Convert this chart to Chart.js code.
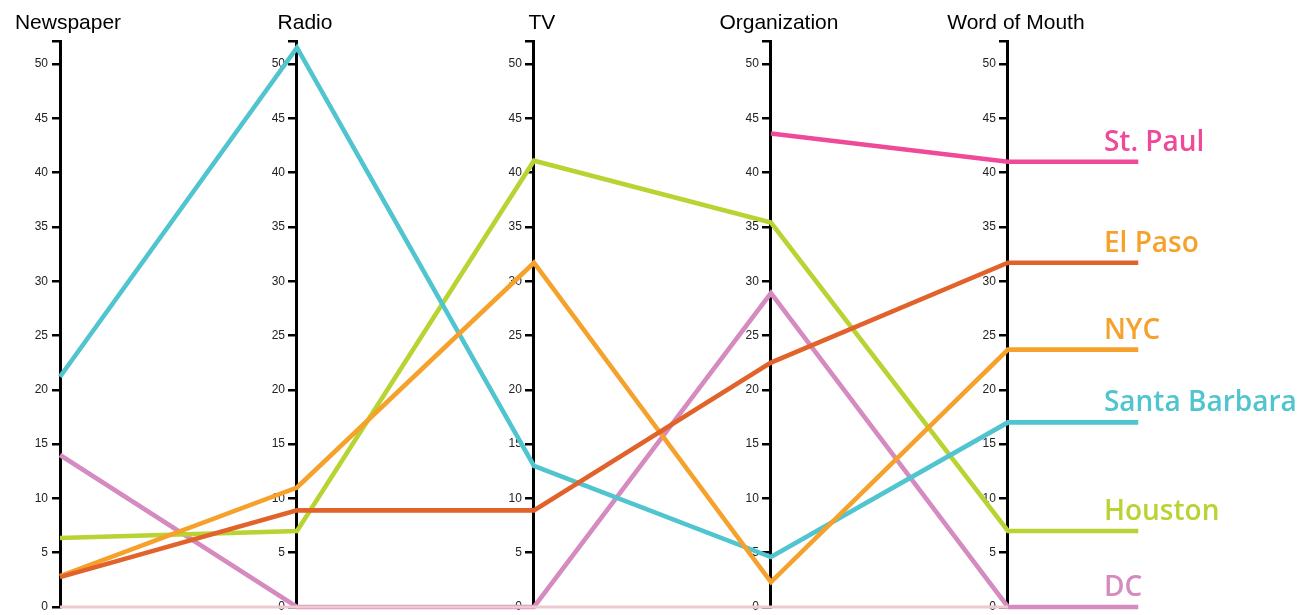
<!DOCTYPE html>
<html>
<head>
<meta charset="utf-8">
<script src="https://cdn.jsdelivr.net/npm/chart.js@4"></script>
<style>
  html, body { margin: 0; padding: 0; background: #fff; }
  #wrap { width: 1316px; height: 615px; position: relative; }
</style>
</head>
<body>
<div id="wrap"><canvas id="myChart"></canvas></div>
<script>
// axes of the parallel plot
const dimensions = ['Newspaper', 'Radio', 'TV', 'Organization', 'Word of Mouth'];
const y_ticks = [0, 5, 10, 15, 20, 25, 30, 35, 40, 45, 50];
const y_max = 52.1;

// one list per city, in the order of dimensions (null = no value)
const cities = ['St. Paul', 'El Paso', 'NYC', 'Santa Barbara', 'Houston', 'DC'];
const st_paul = [null, null, null, 43.6, 41.0];
const el_paso = [2.75, 8.9, 8.9, 22.5, 31.7];
const nyc = [2.85, 11.0, 31.7, 2.3, 23.7];
const santa_barbara = [21.2, 51.5, 13.0, 4.6, 17.0];
const houston = [6.35, 7.0, 41.1, 35.4, 7.0];
const dc = [14.0, 0, 0, 28.9, 0];
const baseline = [0, 0, 0, 0, 0];

const line_colors = ['#ee4a99', '#e2622b', '#f6a12b', '#50c4cf', '#b7d433', '#d58bbf'];
const label_colors = ['#ee4a99', '#f6a12b', '#f6a12b', '#50c4cf', '#b7d433', '#d58bbf'];
const series = [st_paul, el_paso, nyc, santa_barbara, houston, dc];

const tail_x = 4.55; // lines run on past the last axis

function to_points(values, with_tail){
    let pts = values.map((v, i) => ({x: i, y: v}));
    if(with_tail){
        pts.push({x: tail_x, y: values[values.length - 1]});
    }
    return pts;
}

let datasets = [{
    label: 'base',
    data: to_points(baseline, false),
    yAxisID: 'y0',
    borderColor: '#eccacd',
    borderWidth: 3,
    pointRadius: 0,
    clip: 8
}];
series.forEach((vals, i) => {
    datasets.push({
        label: cities[i],
        data: to_points(vals, true),
        yAxisID: 'y0',
        borderColor: line_colors[i],
        borderWidth: 4.6,
        pointRadius: 0,
        spanGaps: false,
        clip: 8
    });
});

let scales = {
    x: {
        type: 'linear',
        position: 'top',
        min: 0,
        max: 5.3,
        grid: { display: false },
        border: { display: false },
        afterBuildTicks: (axis) => {
            axis.ticks = dimensions.map((d, i) => ({value: i}));
        },
        ticks: {
            padding: -3,
            labelOffset: 8,
            maxRotation: 0,
            autoSkip: false,
            color: '#000',
            font: { family: '"Liberation Sans", Arial, sans-serif', size: 21 },
            callback: (v) => dimensions[v]
        }
    }
};
dimensions.forEach((d, i) => {
    scales['y' + i] = {
        type: 'linear',
        position: { x: i },
        min: 0,
        max: y_max,
        afterBuildTicks: (axis) => {
            axis.ticks = y_ticks.map(v => ({value: v})).concat([{value: y_max}]);
        },
        grid: { drawOnChartArea: false, drawTicks: true, tickLength: 7, color: '#000', lineWidth: 2.5 },
        border: { color: '#000', width: 3 },
        ticks: {
            padding: 4,
            color: '#222',
            // small lineHeight so the end labels don't push the plot area in
            font: { family: '"Liberation Sans", Arial, sans-serif', size: 12, lineHeight: 0.5 },
            // labels sit right-aligned on the axis, pad them off to the left
            callback: (v) => (y_ticks.includes(v) ? String(v) + '\u2002\u2002' : '')
        }
    };
});

const city_labels = {
    id: 'city_labels',
    afterDatasetsDraw(chart){
        const ctx = chart.ctx;
        const xs = chart.scales.x;
        const ys = chart.scales.y0;
        ctx.save();
        ctx.font = '600 28px "Open Sans", sans-serif';
        ctx.textAlign = 'left';
        ctx.textBaseline = 'alphabetic';
        series.forEach((vals, i) => {
            const last = vals[vals.length - 1];
            ctx.fillStyle = label_colors[i];
            ctx.fillText(cities[i], xs.getPixelForValue(4) + 96, ys.getPixelForValue(last) - 11);
        });
        ctx.restore();
    }
};

const ctx = document.getElementById('myChart').getContext('2d');
const myChart = new Chart(ctx, {
    type: 'line',
    data: { datasets: datasets },
    options: {
        responsive: true,
        maintainAspectRatio: false,
        animation: false,
        layout: { padding: { left: 60, right: 0, top: 14, bottom: 8 } },
        plugins: { legend: { display: false }, tooltip: { enabled: false } },
        scales: scales
    },
    plugins: [city_labels]
});
</script>
</body>
</html>
